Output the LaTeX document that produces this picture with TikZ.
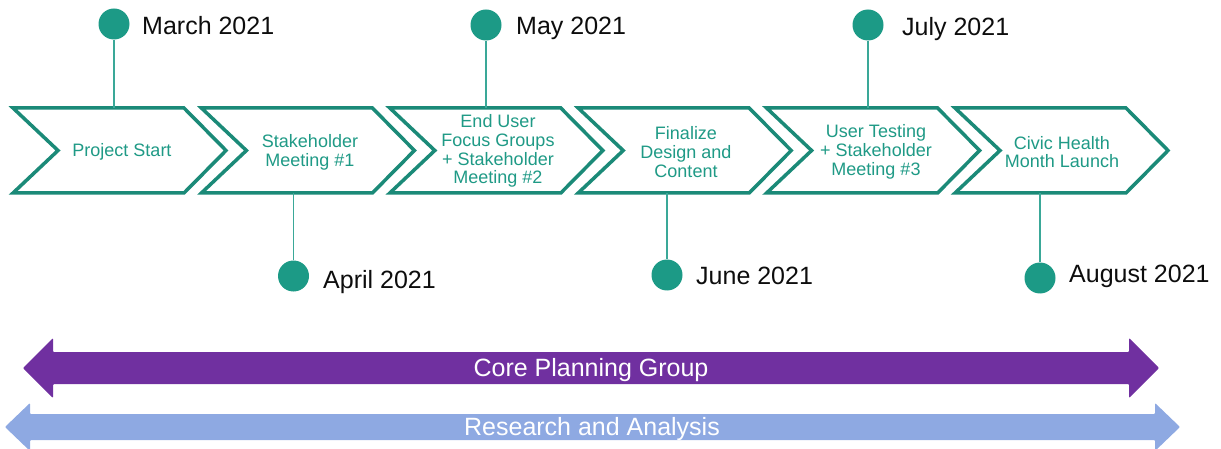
\documentclass[tikz,border=0pt]{standalone}
\usepackage{fontspec}
\setmainfont{Liberation Sans}
\definecolor{tealline}{HTML}{1B8A78}
\definecolor{tealfill}{HTML}{1C9A86}
\definecolor{tealtext}{HTML}{1F9A86}
\definecolor{tealconn}{HTML}{3AA898}
\definecolor{purplebar}{HTML}{7030A0}
\definecolor{bluebar}{HTML}{8EA9E2}
\begin{document}
\begin{tikzpicture}[x=1pt,y=-1pt,
  chev/.style={draw=tealline,line width=3.5pt,fill=white,line join=miter},
  chevtext/.style={text=tealtext,align=center,inner sep=0pt,
    font=\fontsize{18}{18.7}\selectfont},
  dot/.style={circle,fill=tealfill,minimum size=31pt,inner sep=0pt},
  conn/.style={draw=tealconn,line width=1.4pt},
  datelabel/.style={anchor=base west,inner sep=0pt,text=black!95,
    font=\fontsize{25}{28}\selectfont},
  bartext/.style={text=white,inner sep=0pt,font=\fontsize{25}{28}\selectfont}]
\useasboundingbox (0,0) rectangle (1221,449);
% chevrons
\foreach \i/\L in {1/13,2/201.4,3/389.8,4/578.2,5/766.6,6/955}{
  \draw[chev] (\L,108) -- ++(171,0) -- ++(42,42.5) -- ++(-42,42.5)
     -- ++(-171,0) -- ++(45,-42.5) -- cycle;
}
\node[chevtext] (c1) at (122,152) {Project Start};
\node[chevtext] (c2) at (310,152) {Stakeholder\\Meeting \#1};
\node[chevtext] (c3) at (498,151) {End User\\Focus Groups\\+ Stakeholder\\Meeting \#2};
\node[chevtext] (c4) at (686,152) {Finalize\\Design and\\Content};
\node[chevtext] (c5) at (876,152) {User Testing\\+ Stakeholder\\Meeting \#3};
\node[chevtext] (c6) at (1062,152) {Civic Health\\Month Launch};
% connection points on chevrons
\coordinate (a1) at (114,108);
\coordinate (a2) at (293.5,193);
\coordinate (a3) at (486,108);
\coordinate (a4) at (667,193);
\coordinate (a5) at (868,108);
\coordinate (a6) at (1040,193);
% dots
\node[dot] (d1) at (114,24) {};
\node[dot] (d2) at (293.5,276) {};
\node[dot] (d3) at (486,25) {};
\node[dot] (d4) at (667,275) {};
\node[dot] (d5) at (868,25) {};
\node[dot] (d6) at (1040,278) {};
\foreach \i in {1,...,6}{\draw[conn] (d\i) -- (a\i);}
% date labels
\node[datelabel] (l1) at (142,35) {March 2021};
\node[datelabel] (l2) at (323,288) {April 2021};
\node[datelabel] (l3) at (516,35) {May 2021};
\node[datelabel] (l4) at (696,284) {June 2021};
\node[datelabel] (l5) at (902,36) {July 2021};
\node[datelabel] (l6) at (1069,283) {August 2021};
% bars
\fill[purplebar,rounded corners=1pt] (23,368) -- (53,338) -- (53,352) -- (1129,352)
  -- (1129,338) -- (1159,368) -- (1129,398) -- (1129,384) -- (53,384) -- (53,398) -- cycle;
\node[bartext] (p) at (591,370) {Core Planning Group};
\fill[bluebar,rounded corners=1pt] (5,427) -- (30,403) -- (30,414) -- (1155,414)
  -- (1155,403) -- (1180,427) -- (1155,451) -- (1155,440) -- (30,440) -- (30,451) -- cycle;
\node[bartext] (r) at (592,429) {Research and Analysis};
\end{tikzpicture}
\end{document}
